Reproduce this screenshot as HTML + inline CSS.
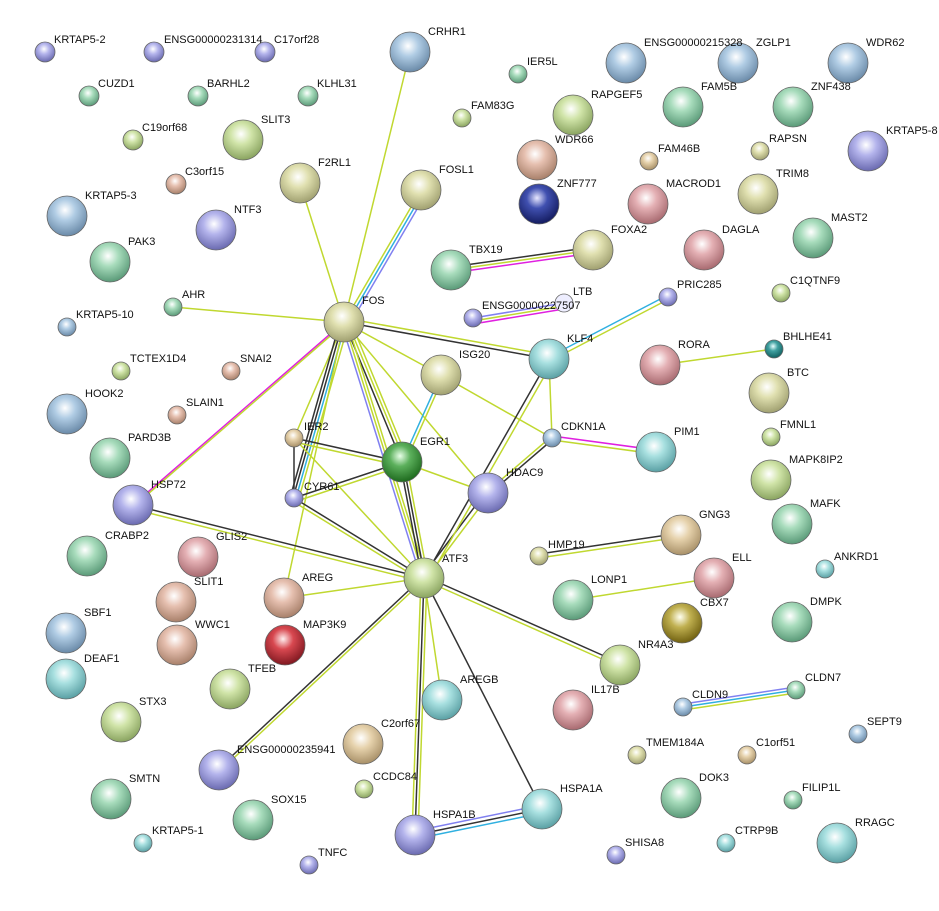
<!DOCTYPE html>
<html><head><meta charset="utf-8"><style>
html,body{margin:0;padding:0;background:#fff}
svg{display:block}
text{font-family:"Liberation Sans",sans-serif;font-size:11px;fill:#111}
circle{stroke-width:0.8}
</style></head><body>
<svg width="939" height="911" viewBox="0 0 939 911" xmlns="http://www.w3.org/2000/svg">
<defs>
<radialGradient id="pur" cx="45%" cy="35%" r="65%"><stop offset="0" stop-color="#fff"/><stop offset="0.4" stop-color="#b4b4ec"/><stop offset="1" stop-color="#6a6ab0"/></radialGradient>
<radialGradient id="grn" cx="45%" cy="35%" r="65%"><stop offset="0" stop-color="#fff"/><stop offset="0.4" stop-color="#a8dcbc"/><stop offset="1" stop-color="#5a9a78"/></radialGradient>
<radialGradient id="lg" cx="45%" cy="35%" r="65%"><stop offset="0" stop-color="#fff"/><stop offset="0.4" stop-color="#d0e4a8"/><stop offset="1" stop-color="#8aa460"/></radialGradient>
<radialGradient id="tan" cx="45%" cy="35%" r="65%"><stop offset="0" stop-color="#fff"/><stop offset="0.4" stop-color="#e6d2ac"/><stop offset="1" stop-color="#a89068"/></radialGradient>
<radialGradient id="blu" cx="45%" cy="35%" r="65%"><stop offset="0" stop-color="#fff"/><stop offset="0.4" stop-color="#b0cce4"/><stop offset="1" stop-color="#6a8aa8"/></radialGradient>
<radialGradient id="yel" cx="45%" cy="35%" r="65%"><stop offset="0" stop-color="#fff"/><stop offset="0.4" stop-color="#e0e0b0"/><stop offset="1" stop-color="#a0a070"/></radialGradient>
<radialGradient id="pnk" cx="45%" cy="35%" r="65%"><stop offset="0" stop-color="#fff"/><stop offset="0.4" stop-color="#e4b0b4"/><stop offset="1" stop-color="#a86a70"/></radialGradient>
<radialGradient id="sal" cx="45%" cy="35%" r="65%"><stop offset="0" stop-color="#fff"/><stop offset="0.4" stop-color="#e6c0b0"/><stop offset="1" stop-color="#a8806a"/></radialGradient>
<radialGradient id="cyn" cx="45%" cy="35%" r="65%"><stop offset="0" stop-color="#fff"/><stop offset="0.4" stop-color="#a8e0e0"/><stop offset="1" stop-color="#5aa0a4"/></radialGradient>
<radialGradient id="dg" cx="45%" cy="35%" r="65%"><stop offset="0" stop-color="#e8ffe8"/><stop offset="0.4" stop-color="#5cb05c"/><stop offset="1" stop-color="#1e6a1e"/></radialGradient>
<radialGradient id="db" cx="45%" cy="35%" r="65%"><stop offset="0" stop-color="#e8e8ff"/><stop offset="0.4" stop-color="#4050b0"/><stop offset="1" stop-color="#141c60"/></radialGradient>
<radialGradient id="red" cx="45%" cy="35%" r="65%"><stop offset="0" stop-color="#fff0f0"/><stop offset="0.4" stop-color="#d84850"/><stop offset="1" stop-color="#801820"/></radialGradient>
<radialGradient id="olv" cx="45%" cy="35%" r="65%"><stop offset="0" stop-color="#fffff0"/><stop offset="0.4" stop-color="#c0b050"/><stop offset="1" stop-color="#706010"/></radialGradient>
<radialGradient id="tea" cx="45%" cy="35%" r="65%"><stop offset="0" stop-color="#e8ffff"/><stop offset="0.4" stop-color="#40a0a0"/><stop offset="1" stop-color="#106060"/></radialGradient>
</defs>
<g stroke-width="1.5" fill="none">
<!-- FOS edges -->
<line x1="344" y1="322" x2="410" y2="52" stroke="#c0d830"/>
<line x1="344" y1="322" x2="300" y2="183" stroke="#c0d830"/>
<line x1="344" y1="322" x2="421" y2="190" stroke="#c0d830"/>
<line x1="347" y1="323" x2="424" y2="191" stroke="#30b0e0"/>
<line x1="350" y1="324" x2="427" y2="192" stroke="#8080f0"/>
<line x1="344" y1="322" x2="173" y2="307" stroke="#c0d830"/>
<line x1="344" y1="322" x2="133" y2="505" stroke="#e020e0"/>
<line x1="344" y1="324" x2="133" y2="507" stroke="#c0d830"/>
<line x1="344" y1="318" x2="549" y2="355" stroke="#c0d830"/>
<line x1="344" y1="322" x2="549" y2="359" stroke="#333"/>
<line x1="344" y1="322" x2="441" y2="375" stroke="#c0d830"/>
<line x1="344" y1="322" x2="294" y2="438" stroke="#c0d830"/>
<line x1="340" y1="322" x2="290" y2="498" stroke="#333"/>
<line x1="343" y1="322" x2="293" y2="498" stroke="#333"/>
<line x1="346" y1="322" x2="296" y2="498" stroke="#30b0e0"/>
<line x1="349" y1="322" x2="299" y2="498" stroke="#c0d830"/>
<line x1="344" y1="322" x2="402" y2="462" stroke="#333"/>
<line x1="347" y1="321" x2="405" y2="461" stroke="#c0d830"/>
<line x1="350" y1="320" x2="408" y2="460" stroke="#c0d830"/>
<line x1="341" y1="322" x2="421" y2="578" stroke="#8080f0"/>
<line x1="344" y1="322" x2="424" y2="578" stroke="#c0d830"/>
<line x1="347" y1="322" x2="427" y2="578" stroke="#c0d830"/>
<line x1="344" y1="322" x2="488" y2="493" stroke="#c0d830"/>
<line x1="344" y1="322" x2="284" y2="598" stroke="#c0d830"/>
<!-- ISG20 -->
<line x1="441" y1="375" x2="402" y2="462" stroke="#30b0e0"/>
<line x1="444" y1="376" x2="405" y2="463" stroke="#c0d830"/>
<line x1="441" y1="375" x2="552" y2="438" stroke="#c0d830"/>
<!-- IER2 / CYR61 / EGR1 -->
<line x1="294" y1="438" x2="402" y2="462" stroke="#333"/>
<line x1="294" y1="442" x2="402" y2="466" stroke="#c0d830"/>
<line x1="294" y1="438" x2="424" y2="578" stroke="#c0d830"/>
<line x1="294" y1="438" x2="294" y2="498" stroke="#333"/>
<line x1="294" y1="498" x2="402" y2="462" stroke="#333"/>
<line x1="294" y1="502" x2="402" y2="466" stroke="#c0d830"/>
<line x1="294" y1="498" x2="424" y2="578" stroke="#333"/>
<line x1="294" y1="502" x2="424" y2="582" stroke="#c0d830"/>
<line x1="400" y1="462" x2="422" y2="578" stroke="#333"/>
<line x1="403" y1="462" x2="425" y2="578" stroke="#333"/>
<line x1="406" y1="462" x2="428" y2="578" stroke="#c0d830"/>
<line x1="402" y1="462" x2="488" y2="493" stroke="#c0d830"/>
<!-- HDAC9 / KLF4 / CDKN1A -->
<line x1="485" y1="493" x2="421" y2="578" stroke="#333"/>
<line x1="489" y1="495" x2="425" y2="580" stroke="#c0d830"/>
<line x1="424" y1="578" x2="549" y2="359" stroke="#333"/>
<line x1="428" y1="580" x2="553" y2="361" stroke="#c0d830"/>
<line x1="488" y1="491" x2="552" y2="436" stroke="#c0d830"/>
<line x1="488" y1="495" x2="552" y2="440" stroke="#333"/>
<line x1="549" y1="359" x2="552" y2="438" stroke="#c0d830"/>
<line x1="552" y1="436" x2="656" y2="450" stroke="#e020e0"/>
<line x1="552" y1="440" x2="656" y2="454" stroke="#c0d830"/>
<line x1="549" y1="357" x2="668" y2="295" stroke="#30b0e0"/>
<line x1="550" y1="361" x2="669" y2="299" stroke="#c0d830"/>
<line x1="473" y1="318" x2="564" y2="303" stroke="#8080f0"/>
<line x1="473" y1="321" x2="564" y2="306" stroke="#c0d830"/>
<line x1="473" y1="324" x2="564" y2="309" stroke="#e020e0"/>
<line x1="451" y1="267" x2="593" y2="247" stroke="#333"/>
<line x1="451" y1="270" x2="593" y2="250" stroke="#c0d830"/>
<line x1="451" y1="273" x2="593" y2="253" stroke="#e020e0"/>
<line x1="660" y1="365" x2="774" y2="349" stroke="#c0d830"/>
<!-- ATF3 edges -->
<line x1="133" y1="505" x2="424" y2="578" stroke="#333"/>
<line x1="133" y1="509" x2="424" y2="582" stroke="#c0d830"/>
<line x1="424" y1="578" x2="284" y2="598" stroke="#c0d830"/>
<line x1="424" y1="576" x2="620" y2="663" stroke="#333"/>
<line x1="424" y1="580" x2="620" y2="667" stroke="#c0d830"/>
<line x1="424" y1="578" x2="442" y2="700" stroke="#c0d830"/>
<line x1="422" y1="578" x2="217" y2="770" stroke="#333"/>
<line x1="426" y1="578" x2="221" y2="770" stroke="#c0d830"/>
<line x1="424" y1="578" x2="542" y2="809" stroke="#333"/>
<line x1="421" y1="578" x2="412" y2="835" stroke="#c0d830"/>
<line x1="424" y1="578" x2="415" y2="835" stroke="#333"/>
<line x1="427" y1="578" x2="418" y2="835" stroke="#c0d830"/>
<line x1="415" y1="831" x2="542" y2="805" stroke="#8080f0"/>
<line x1="415" y1="835" x2="542" y2="809" stroke="#333"/>
<line x1="415" y1="839" x2="542" y2="813" stroke="#30b0e0"/>
<line x1="539" y1="554" x2="681" y2="533" stroke="#333"/>
<line x1="539" y1="558" x2="681" y2="537" stroke="#c0d830"/>
<line x1="573" y1="600" x2="714" y2="578" stroke="#c0d830"/>
<line x1="683" y1="704" x2="796" y2="687" stroke="#8080f0"/>
<line x1="683" y1="707" x2="796" y2="690" stroke="#30b0e0"/>
<line x1="683" y1="710" x2="796" y2="693" stroke="#c0d830"/>
</g>
<g stroke="#666">
<circle cx="45" cy="52" r="10" fill="url(#pur)"/><circle cx="154" cy="52" r="10" fill="url(#pur)"/><circle cx="265" cy="52" r="10" fill="url(#pur)"/>
<circle cx="89" cy="96" r="10" fill="url(#grn)"/><circle cx="198" cy="96" r="10" fill="url(#grn)"/><circle cx="308" cy="96" r="10" fill="url(#grn)"/>
<circle cx="410" cy="52" r="20" fill="url(#blu)"/><circle cx="518" cy="74" r="9" fill="url(#grn)"/><circle cx="462" cy="118" r="9" fill="url(#lg)"/>
<circle cx="626" cy="63" r="20" fill="url(#blu)"/><circle cx="738" cy="63" r="20" fill="url(#blu)"/><circle cx="848" cy="63" r="20" fill="url(#blu)"/>
<circle cx="573" cy="115" r="20" fill="url(#lg)"/><circle cx="683" cy="107" r="20" fill="url(#grn)"/><circle cx="793" cy="107" r="20" fill="url(#grn)"/>
<circle cx="868" cy="151" r="20" fill="url(#pur)"/><circle cx="133" cy="140" r="10" fill="url(#lg)"/><circle cx="243" cy="140" r="20" fill="url(#lg)"/>
<circle cx="176" cy="184" r="10" fill="url(#sal)"/><circle cx="300" cy="183" r="20" fill="url(#yel)"/><circle cx="421" cy="190" r="20" fill="url(#yel)"/>
<circle cx="537" cy="160" r="20" fill="url(#sal)"/><circle cx="539" cy="204" r="20" fill="url(#db)"/><circle cx="649" cy="161" r="9" fill="url(#tan)"/>
<circle cx="760" cy="151" r="9" fill="url(#yel)"/><circle cx="648" cy="204" r="20" fill="url(#pnk)"/><circle cx="758" cy="194" r="20" fill="url(#yel)"/>
<circle cx="67" cy="216" r="20" fill="url(#blu)"/><circle cx="216" cy="230" r="20" fill="url(#pur)"/><circle cx="110" cy="262" r="20" fill="url(#grn)"/>
<circle cx="451" cy="270" r="20" fill="url(#grn)"/><circle cx="593" cy="250" r="20" fill="url(#yel)"/><circle cx="704" cy="250" r="20" fill="url(#pnk)"/>
<circle cx="813" cy="238" r="20" fill="url(#grn)"/><circle cx="781" cy="293" r="9" fill="url(#lg)"/><circle cx="668" cy="297" r="9" fill="url(#pur)"/>
<circle cx="564" cy="303" r="9" fill="#eef"/><circle cx="473" cy="318" r="9" fill="url(#pur)"/><circle cx="173" cy="307" r="9" fill="url(#grn)"/>
<circle cx="67" cy="327" r="9" fill="url(#blu)"/><circle cx="344" cy="322" r="20" fill="url(#yel)"/><circle cx="549" cy="359" r="20" fill="url(#cyn)"/>
<circle cx="660" cy="365" r="20" fill="url(#pnk)"/><circle cx="774" cy="349" r="9" fill="url(#tea)"/><circle cx="441" cy="375" r="20" fill="url(#yel)"/>
<circle cx="121" cy="371" r="9" fill="url(#lg)"/><circle cx="231" cy="371" r="9" fill="url(#sal)"/><circle cx="769" cy="393" r="20" fill="url(#yel)"/>
<circle cx="67" cy="414" r="20" fill="url(#blu)"/><circle cx="177" cy="415" r="9" fill="url(#sal)"/><circle cx="294" cy="438" r="9" fill="url(#tan)"/>
<circle cx="552" cy="438" r="9" fill="url(#blu)"/><circle cx="771" cy="437" r="9" fill="url(#lg)"/><circle cx="110" cy="458" r="20" fill="url(#grn)"/>
<circle cx="402" cy="462" r="20" fill="url(#dg)"/><circle cx="656" cy="452" r="20" fill="url(#cyn)"/><circle cx="771" cy="480" r="20" fill="url(#lg)"/>
<circle cx="488" cy="493" r="20" fill="url(#pur)"/><circle cx="294" cy="498" r="9" fill="url(#pur)"/><circle cx="133" cy="505" r="20" fill="url(#pur)"/>
<circle cx="792" cy="524" r="20" fill="url(#grn)"/><circle cx="87" cy="556" r="20" fill="url(#grn)"/><circle cx="198" cy="557" r="20" fill="url(#pnk)"/>
<circle cx="681" cy="535" r="20" fill="url(#tan)"/><circle cx="539" cy="556" r="9" fill="url(#yel)"/><circle cx="825" cy="569" r="9" fill="url(#cyn)"/>
<circle cx="424" cy="578" r="20" fill="url(#lg)"/><circle cx="714" cy="578" r="20" fill="url(#pnk)"/><circle cx="176" cy="602" r="20" fill="url(#sal)"/>
<circle cx="284" cy="598" r="20" fill="url(#sal)"/><circle cx="573" cy="600" r="20" fill="url(#grn)"/><circle cx="682" cy="623" r="20" fill="url(#olv)"/>
<circle cx="792" cy="622" r="20" fill="url(#grn)"/><circle cx="66" cy="633" r="20" fill="url(#blu)"/><circle cx="177" cy="645" r="20" fill="url(#sal)"/>
<circle cx="285" cy="645" r="20" fill="url(#red)"/><circle cx="620" cy="665" r="20" fill="url(#lg)"/><circle cx="66" cy="679" r="20" fill="url(#cyn)"/>
<circle cx="230" cy="689" r="20" fill="url(#lg)"/><circle cx="442" cy="700" r="20" fill="url(#cyn)"/><circle cx="573" cy="710" r="20" fill="url(#pnk)"/>
<circle cx="796" cy="690" r="9" fill="url(#grn)"/><circle cx="683" cy="707" r="9" fill="url(#blu)"/><circle cx="121" cy="722" r="20" fill="url(#lg)"/>
<circle cx="858" cy="734" r="9" fill="url(#blu)"/><circle cx="363" cy="744" r="20" fill="url(#tan)"/><circle cx="637" cy="755" r="9" fill="url(#yel)"/>
<circle cx="747" cy="755" r="9" fill="url(#tan)"/><circle cx="219" cy="770" r="20" fill="url(#pur)"/><circle cx="364" cy="789" r="9" fill="url(#lg)"/>
<circle cx="111" cy="799" r="20" fill="url(#grn)"/><circle cx="681" cy="798" r="20" fill="url(#grn)"/><circle cx="793" cy="800" r="9" fill="url(#grn)"/>
<circle cx="253" cy="820" r="20" fill="url(#grn)"/><circle cx="542" cy="809" r="20" fill="url(#cyn)"/><circle cx="415" cy="835" r="20" fill="url(#pur)"/>
<circle cx="837" cy="843" r="20" fill="url(#cyn)"/><circle cx="143" cy="843" r="9" fill="url(#cyn)"/><circle cx="726" cy="843" r="9" fill="url(#cyn)"/>
<circle cx="616" cy="855" r="9" fill="url(#pur)"/><circle cx="309" cy="865" r="9" fill="url(#pur)"/>
</g>
<g>
<text x="54" y="43">KRTAP5-2</text><text x="164" y="43">ENSG00000231314</text><text x="274" y="43">C17orf28</text>
<text x="98" y="87">CUZD1</text><text x="207" y="87">BARHL2</text><text x="317" y="87">KLHL31</text>
<text x="428" y="35">CRHR1</text><text x="527" y="65">IER5L</text><text x="471" y="109">FAM83G</text>
<text x="644" y="46">ENSG00000215328</text><text x="756" y="46">ZGLP1</text><text x="866" y="46">WDR62</text>
<text x="591" y="98">RAPGEF5</text><text x="701" y="90">FAM5B</text><text x="811" y="90">ZNF438</text>
<text x="886" y="134">KRTAP5-8</text><text x="142" y="131">C19orf68</text><text x="261" y="123">SLIT3</text>
<text x="185" y="175">C3orf15</text><text x="318" y="166">F2RL1</text><text x="439" y="173">FOSL1</text>
<text x="555" y="143">WDR66</text><text x="557" y="187">ZNF777</text><text x="658" y="152">FAM46B</text>
<text x="769" y="142">RAPSN</text><text x="666" y="187">MACROD1</text><text x="776" y="177">TRIM8</text>
<text x="85" y="199">KRTAP5-3</text><text x="234" y="213">NTF3</text><text x="128" y="245">PAK3</text>
<text x="469" y="253">TBX19</text><text x="611" y="233">FOXA2</text><text x="722" y="233">DAGLA</text>
<text x="831" y="221">MAST2</text><text x="790" y="284">C1QTNF9</text><text x="677" y="288">PRIC285</text>
<text x="573" y="295">LTB</text><text x="482" y="309">ENSG00000227507</text><text x="182" y="298">AHR</text>
<text x="76" y="318">KRTAP5-10</text><text x="362" y="304">FOS</text><text x="567" y="342">KLF4</text>
<text x="678" y="348">RORA</text><text x="783" y="340">BHLHE41</text><text x="459" y="358">ISG20</text>
<text x="130" y="362">TCTEX1D4</text><text x="240" y="362">SNAI2</text><text x="787" y="376">BTC</text>
<text x="85" y="397">HOOK2</text><text x="186" y="406">SLAIN1</text><text x="304" y="430">IER2</text>
<text x="561" y="430">CDKN1A</text><text x="780" y="428">FMNL1</text><text x="128" y="441">PARD3B</text>
<text x="420" y="445">EGR1</text><text x="674" y="435">PIM1</text><text x="789" y="463">MAPK8IP2</text>
<text x="506" y="476">HDAC9</text><text x="304" y="490">CYR61</text><text x="151" y="488">HSP72</text>
<text x="810" y="507">MAFK</text><text x="105" y="539">CRABP2</text><text x="216" y="540">GLIS2</text>
<text x="699" y="518">GNG3</text><text x="548" y="548">HMP19</text><text x="834" y="560">ANKRD1</text>
<text x="442" y="562">ATF3</text><text x="732" y="561">ELL</text><text x="194" y="585">SLIT1</text>
<text x="302" y="581">AREG</text><text x="591" y="583">LONP1</text><text x="700" y="606">CBX7</text>
<text x="810" y="605">DMPK</text><text x="84" y="616">SBF1</text><text x="195" y="628">WWC1</text>
<text x="303" y="628">MAP3K9</text><text x="638" y="648">NR4A3</text><text x="84" y="662">DEAF1</text>
<text x="248" y="672">TFEB</text><text x="460" y="683">AREGB</text><text x="591" y="693">IL17B</text>
<text x="805" y="681">CLDN7</text><text x="692" y="698">CLDN9</text><text x="139" y="705">STX3</text>
<text x="867" y="725">SEPT9</text><text x="381" y="727">C2orf67</text><text x="646" y="746">TMEM184A</text>
<text x="756" y="746">C1orf51</text><text x="237" y="753">ENSG00000235941</text><text x="373" y="780">CCDC84</text>
<text x="129" y="782">SMTN</text><text x="699" y="781">DOK3</text><text x="802" y="791">FILIP1L</text>
<text x="271" y="803">SOX15</text><text x="560" y="792">HSPA1A</text><text x="433" y="818">HSPA1B</text>
<text x="855" y="826">RRAGC</text><text x="152" y="834">KRTAP5-1</text><text x="735" y="834">CTRP9B</text>
<text x="625" y="846">SHISA8</text><text x="318" y="856">TNFC</text>
</g>
</svg>
</body></html>
